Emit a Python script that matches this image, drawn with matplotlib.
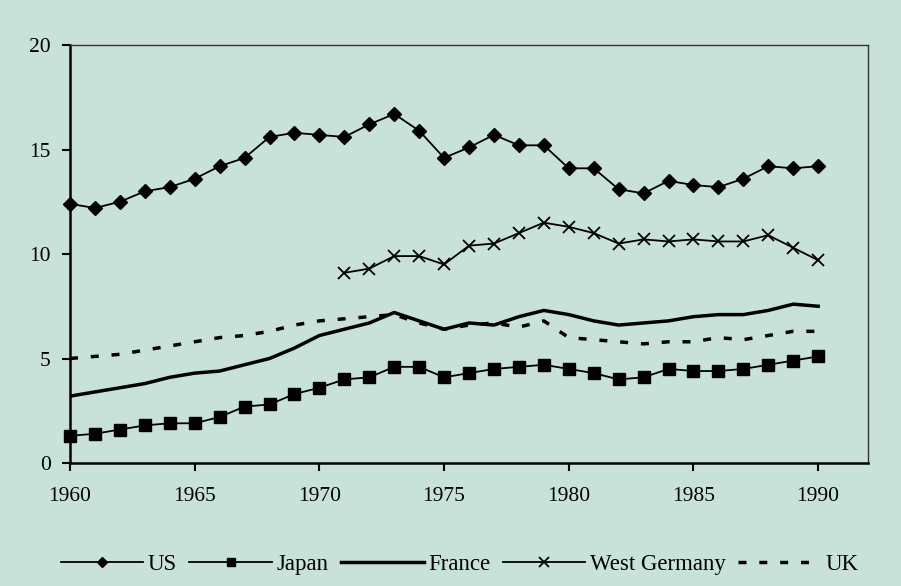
import numpy as np
import matplotlib
matplotlib.use("Agg")
import matplotlib.pyplot as plt

years = np.arange(1960, 1991)
years_wg = np.arange(1971, 1991)

us = [12.4, 12.2, 12.5, 13.0, 13.2, 13.6, 14.2, 14.6, 15.6, 15.8, 15.7,
      15.6, 16.2, 16.7, 15.9, 14.6, 15.1, 15.7, 15.2, 15.2, 14.1,
      14.1, 13.1, 12.9, 13.5, 13.3, 13.2, 13.6, 14.2, 14.1, 14.2]
japan = [1.3, 1.4, 1.6, 1.8, 1.9, 1.9, 2.2, 2.7, 2.8, 3.3, 3.6,
         4.0, 4.1, 4.6, 4.6, 4.1, 4.3, 4.5, 4.6, 4.7, 4.5,
         4.3, 4.0, 4.1, 4.5, 4.4, 4.4, 4.5, 4.7, 4.9, 5.1]
france = [3.2, 3.4, 3.6, 3.8, 4.1, 4.3, 4.4, 4.7, 5.0, 5.5, 6.1,
          6.4, 6.7, 7.2, 6.8, 6.4, 6.7, 6.6, 7.0, 7.3, 7.1,
          6.8, 6.6, 6.7, 6.8, 7.0, 7.1, 7.1, 7.3, 7.6, 7.5]
west_germany = [9.1, 9.3, 9.9, 9.9, 9.5, 10.4, 10.5, 11.0, 11.5, 11.3,
                11.0, 10.5, 10.7, 10.6, 10.7, 10.6, 10.6, 10.9, 10.3, 9.7]
uk = [5.0, 5.1, 5.2, 5.4, 5.6, 5.8, 6.0, 6.1, 6.3, 6.6, 6.8,
      6.9, 7.0, 7.1, 6.7, 6.4, 6.6, 6.7, 6.5, 6.8, 6.0,
      5.9, 5.8, 5.7, 5.8, 5.8, 6.0, 5.9, 6.1, 6.3, 6.3]

bg = '#C8E2D9'
plt.rcParams['font.family'] = ['Liberation Serif', 'DejaVu Serif']

fig = plt.figure(figsize=(9.01, 5.86), dpi=100, facecolor=bg)
ax = fig.add_axes([0.0777, 0.2099, 0.8857, 0.7133], facecolor=bg)

ax.plot(years, us, color='black', lw=1.3, marker='D', ms=7, label='US',
        clip_on=False, zorder=3)
ax.plot(years, japan, color='black', lw=1.3, marker='s', ms=8, label='Japan',
        clip_on=False, zorder=3)
ax.plot(years, france, color='black', lw=2.5, label='France')
ax.plot(years_wg, west_germany, color='black', lw=1.3, marker='x', ms=9,
        mew=1.3, label='West Germany')
ax.plot(years, uk, color='black', lw=2.5, ls=(0, (2.3, 3.7)), label='UK')

ax.set_xlim(1960, 1992)
ax.set_ylim(0, 20)
ax.set_xticks(np.arange(1960, 1991, 5))
ax.set_yticks(np.arange(0, 21, 5))
ax.tick_params(axis='both', labelsize=15.5, length=6, width=1.5,
               direction='out')
ax.tick_params(axis='x', pad=11)
ax.tick_params(axis='y', pad=8)

for s in ['left', 'bottom']:
    ax.spines[s].set_linewidth(1.8)
    ax.spines[s].set_color('black')
for s in ['top', 'right']:
    ax.spines[s].set_linewidth(1.0)
    ax.spines[s].set_color('#333333')

fig.legend(loc='center', bbox_to_anchor=(0.51, 0.0375), ncol=5, frameon=False,
           fontsize=16.5, handlelength=3.6, handletextpad=0.2,
           columnspacing=0.55, markerscale=0.8)

fig.savefig('out.png', dpi=100, facecolor=bg)
